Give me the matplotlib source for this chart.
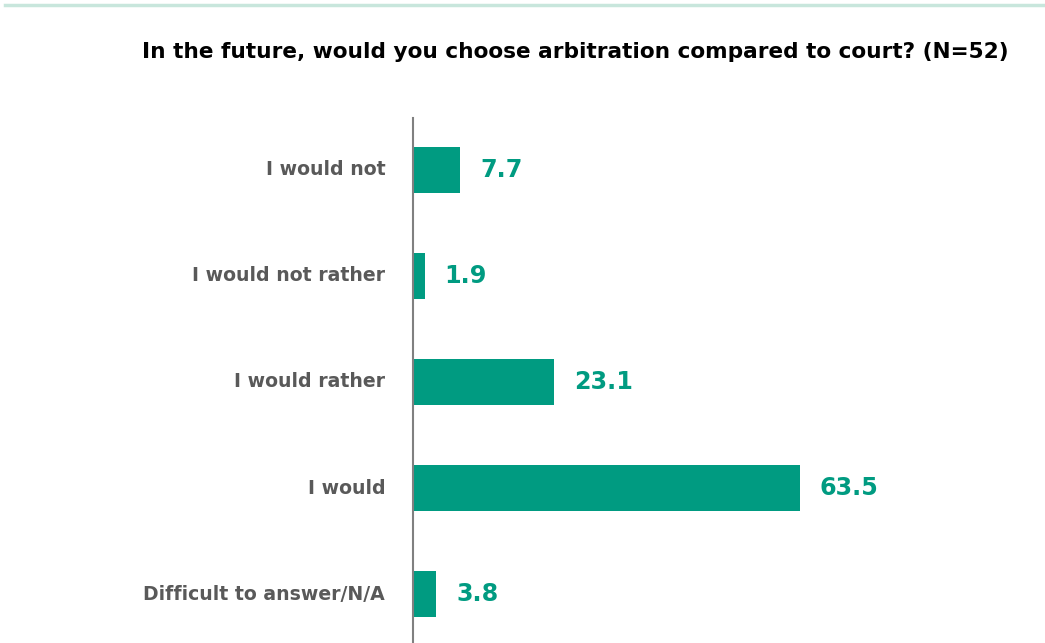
import matplotlib.pyplot as plt
from matplotlib.lines import Line2D

categories = ["I would not", "I would not rather", "I would rather", "I would",
              "Difficult to answer/N/A"]
values = [7.7, 1.9, 23.1, 63.5, 3.8]
title = "In the future, would you choose arbitration compared to court? (N=52)"

teal = "#009b81"
grey = "#595959"

fig = plt.figure(figsize=(10.45, 6.43), dpi=100)
ax = fig.add_axes([413 / 1045, 0, 609 / 1045, 525 / 643])

pos = list(range(len(categories)))
ax.barh(pos, values, height=0.43, color=teal)
for p, v in zip(pos, values):
    ax.text(v + 3.3, p, f"{v:.1f}", va="center", ha="left", color=teal,
            fontsize=17.2, fontweight="bold")

ax.set_xlim(0, 100)
ax.set_ylim(4.462, -0.49)
ax.set_yticks(pos)
ax.set_yticklabels(categories, fontsize=13.6, fontweight="bold", color=grey,
                   va="center")
ax.tick_params(axis="y", length=0, pad=20)
ax.set_xticks([])
for s in ["top", "right", "bottom"]:
    ax.spines[s].set_visible(False)
ax.spines["left"].set_color("#808080")
ax.spines["left"].set_linewidth(1.5)

fig.text(575 / 1045, 1 - 52 / 643, title, ha="center", va="center",
         fontsize=15.6, fontweight="bold", color="black")
# thin accent rule across the top
fig.add_artist(Line2D([5 / 1045, 1], [1 - 5 / 643] * 2, color="#c8e6dc", lw=2.5,
                      transform=fig.transFigure))

fig.savefig("out.png", dpi=100)
